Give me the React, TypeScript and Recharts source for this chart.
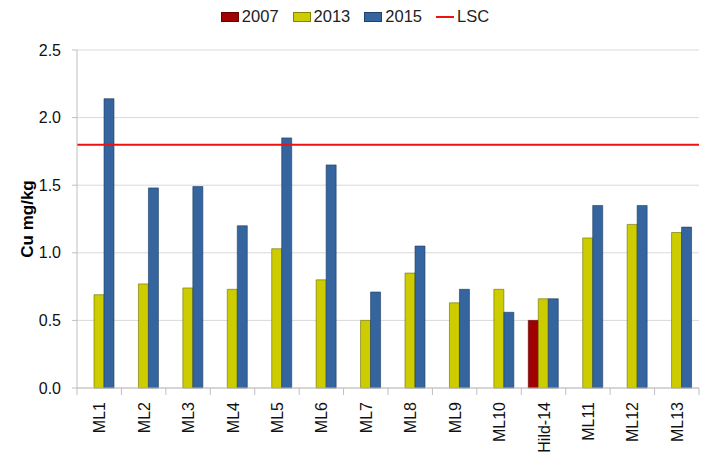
import { ComposedChart, Bar, XAxis, YAxis, CartesianGrid, ReferenceLine } from "recharts";

const sites = ["ML1", "ML2", "ML3", "ML4", "ML5", "ML6", "ML7", "ML8", "ML9", "ML10", "Hild-14", "ML11", "ML12", "ML13"];
const cu2007 = [null, null, null, null, null, null, null, null, null, null, 0.5, null, null, null];
const cu2013 = [0.69, 0.77, 0.74, 0.73, 1.03, 0.8, 0.5, 0.85, 0.63, 0.73, 0.66, 1.11, 1.21, 1.15];
const cu2015 = [2.14, 1.48, 1.49, 1.2, 1.85, 1.65, 0.71, 1.05, 0.73, 0.56, 0.66, 1.35, 1.35, 1.19];
const lsc = 1.8;
const yTicks = [0, 0.5, 1, 1.5, 2, 2.5];

const data = sites.map((s, i) => ({ site: s, y2007: cu2007[i], y2013: cu2013[i], y2015: cu2015[i] }));

const FONT = "'Liberation Sans', Arial, sans-serif";
const W = 710;
const H = 464;
const LEFT = 77;
const RIGHT = 11;
const bandW = (W - LEFT - RIGHT) / sites.length;

const legendItems = [
  { name: "2007", color: "#a00000", type: "rect" },
  { name: "2013", color: "#cccc00", type: "rect" },
  { name: "2015", color: "#35659e", type: "rect" },
  { name: "LSC", color: "#ee1111", type: "line" },
];

function LegendBox() {
  return (
    <div style={{ position: "absolute", top: 7, left: 0, width: W, display: "flex", justifyContent: "center", gap: 14, fontFamily: FONT, fontSize: 16.5, color: "#222" }}>
      {legendItems.map((it) => (
        <span key={it.name} style={{ display: "flex", alignItems: "center", gap: 3 }}>
          {it.type === "rect" ? (
            <span style={{ display: "inline-block", width: 18, height: 10, background: it.color, border: "1px solid rgba(0,0,0,0.35)", boxSizing: "border-box" }} />
          ) : (
            <span style={{ display: "inline-block", width: 18, height: 2, background: it.color }} />
          )}
          <span>{it.name}</span>
        </span>
      ))}
    </div>
  );
}

function XTick(props: any) {
  const { x, y, payload, index } = props;
  const left = x - bandW / 2;
  return (
    <g>
      <line x1={left} y1={y - 8} x2={left} y2={y - 1} stroke="#bfbfbf" />
      {index === sites.length - 1 && <line x1={left + bandW} y1={y - 8} x2={left + bandW} y2={y - 1} stroke="#bfbfbf" />}
      <text
        x={0}
        y={0}
        transform={`translate(${x + 6},${y + 6}) rotate(-90)`}
        textAnchor="end"
        fontFamily={FONT}
        fontSize={16}
        fill="#111"
      >
        {payload.value}
      </text>
    </g>
  );
}

export default function App() {
  return (
    <div style={{ position: "absolute", left: 0, top: 0, width: W, height: H, background: "#fff" }}>
      <LegendBox />
      <ComposedChart width={W} height={H} data={data} margin={{ top: 50, right: RIGHT, left: 0, bottom: 0 }} barCategoryGap={7} barGap={0}>
        <CartesianGrid vertical={false} stroke="#d9d9d9" />
        <XAxis
          dataKey="site"
          interval={0}
          height={76}
          axisLine={{ stroke: "#bfbfbf" }}
          tickLine={false}
          tick={<XTick />}
        />
        <YAxis
          width={LEFT}
          domain={[0, 2.5]}
          ticks={yTicks}
          tickFormatter={(v: number) => v.toFixed(1)}
          axisLine={{ stroke: "#bfbfbf" }}
          tickLine={{ stroke: "#bfbfbf" }}
          tickSize={5}
          tickMargin={11}
          tick={{ fontFamily: FONT, fontSize: 16, fill: "#111" }}
          label={{
            value: "Cu mg/kg",
            angle: -90,
            position: "insideLeft",
            offset: 27,
            style: { fontFamily: FONT, fontSize: 17, fontWeight: "bold", fill: "#000", textAnchor: "middle" },
          }}
        />
        <Bar dataKey="y2007" name="2007" fill="#a00000" stroke="#5a0000" strokeWidth={0.6} isAnimationActive={false} />
        <Bar dataKey="y2013" name="2013" fill="#cccc00" stroke="#6b6b00" strokeWidth={0.6} isAnimationActive={false} />
        <Bar dataKey="y2015" name="2015" fill="#35659e" stroke="#1c3a60" strokeWidth={0.6} isAnimationActive={false} />
        <ReferenceLine y={lsc} stroke="#ee1111" strokeWidth={2} ifOverflow="extendDomain" />
      </ComposedChart>
    </div>
  );
}
